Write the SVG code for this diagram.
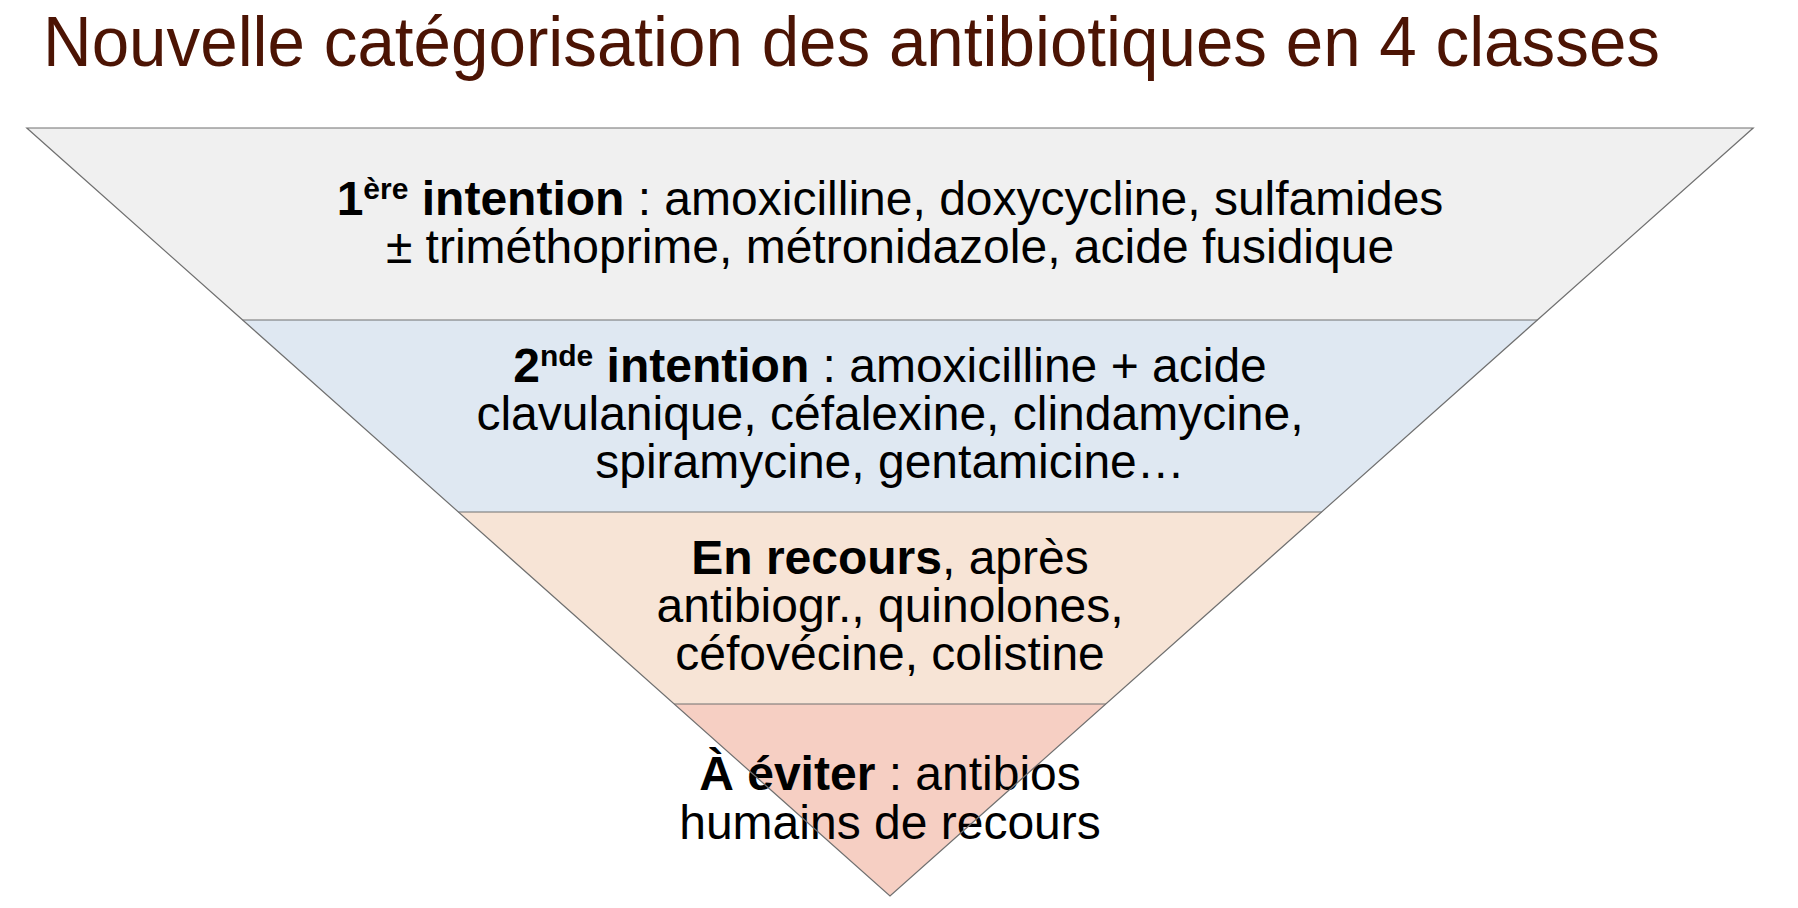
<svg xmlns="http://www.w3.org/2000/svg" width="1798" height="908" viewBox="0 0 1798 908">
<style>
.title{font-family:"Liberation Sans",Arial,Helvetica,sans-serif;font-size:71px;fill:#4c1404}
.t{font-family:"Liberation Sans",Arial,Helvetica,sans-serif;font-size:48px;fill:#000;text-anchor:middle}
.b{font-weight:bold}
.sup{font-size:30px;font-weight:bold}
.edge{fill:none;stroke:#707070;stroke-width:1.2}
</style>
<rect x="0" y="0" width="1798" height="908" fill="#ffffff"/>
<text class="title" x="43" y="66" textLength="1617" lengthAdjust="spacingAndGlyphs">Nouvelle catégorisation des antibiotiques en 4 classes</text>

<g id="band1">
<polygon points="26.8,128 1753.2,128 1537.4,320 242.6,320" fill="#f0f0f0"/>
<text class="t" x="890" y="215"><tspan class="b">1</tspan><tspan class="sup" dy="-16">ère</tspan><tspan class="b" dy="16"> intention</tspan> : amoxicilline, doxycycline, sulfamides</text>
<text class="t" x="890" y="263">± triméthoprime, métronidazole, acide fusidique</text>
</g>

<g id="band2">
<polygon points="242.6,320 1537.4,320 1321.6,512 458.4,512" fill="#dfe8f2"/>
<text class="t" x="890" y="382"><tspan class="b">2</tspan><tspan class="sup" dy="-16">nde</tspan><tspan class="b" dy="16"> intention</tspan> : amoxicilline + acide</text>
<text class="t" x="890" y="430">clavulanique, céfalexine, clindamycine,</text>
<text class="t" x="890" y="478">spiramycine, gentamicine…</text>
</g>

<g id="band3">
<polygon points="458.4,512 1321.6,512 1105.8,704 674.2,704" fill="#f7e4d6"/>
<text class="t" x="890" y="574"><tspan class="b">En recours</tspan>, après</text>
<text class="t" x="890" y="622">antibiogr., quinolones,</text>
<text class="t" x="890" y="670">céfovécine, colistine</text>
</g>

<g id="band4">
<polygon points="674.2,704 1105.8,704 890,896" fill="#f6cfc3"/>
<text class="t" x="890" y="790"><tspan class="b">À éviter</tspan> : antibios</text>
<text class="t" x="890" y="839">humains de recours</text>
</g>

<g id="connectors">
<polygon class="edge" points="26.8,128 1753.2,128 890,896"/>
<line class="edge" x1="242.6" y1="320" x2="1537.4" y2="320"/>
<line class="edge" x1="458.4" y1="512" x2="1321.6" y2="512"/>
<line class="edge" x1="674.2" y1="704" x2="1105.8" y2="704"/>
</g>
</svg>
